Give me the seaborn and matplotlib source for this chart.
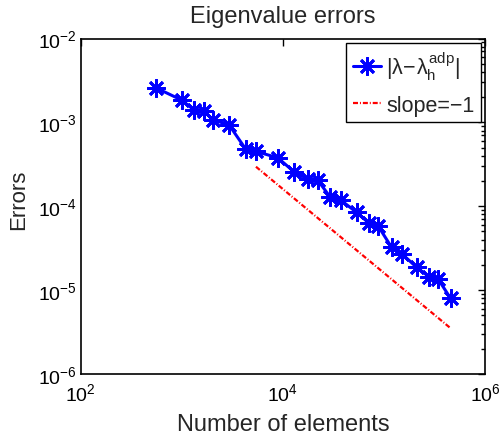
import numpy as np
import pandas as pd
import matplotlib
matplotlib.use("Agg")
import matplotlib.pyplot as plt
import matplotlib.ticker as mticker
import seaborn as sns

# ---- data ----
n_elements = [556, 1000, 1330, 1670, 2020, 2950, 4315, 5420, 8890, 12880,
              17830, 22090, 29240, 37560, 53700, 71600, 87900, 119200,
              151700, 210500, 280500, 344400, 457000]
eig_errors = [2.58e-3, 1.84e-3, 1.40e-3, 1.36e-3, 1.08e-3, 9.26e-4, 4.75e-4,
              4.50e-4, 3.79e-4, 2.58e-4, 2.09e-4, 2.05e-4, 1.30e-4, 1.18e-4,
              8.44e-5, 6.24e-5, 5.79e-5, 3.23e-5, 2.69e-5, 1.87e-5, 1.44e-5,
              1.35e-5, 7.96e-6]
slope_x = [5420, 457000]
slope_y = [2.96e-4, 3.51e-6]

err_label = r'$|\lambda\!-\!\lambda_{\mathrm{h}}^{\mathrm{adp}}|$'
slope_label = 'slope=\u22121'
title = 'Eigenvalue errors'
xlabel = 'Number of elements'
ylabel = 'Errors'
xticks = [1e2, 1e4, 1e6]
yticks = [1e-6, 1e-5, 1e-4, 1e-3, 1e-2]

sns.set_style("white")
plt.rcParams['font.family'] = ['Liberation Sans', 'DejaVu Sans']
plt.rcParams['mathtext.fontset'] = 'custom'
plt.rcParams['mathtext.rm'] = 'Liberation Sans'
plt.rcParams['mathtext.it'] = 'Liberation Sans'
plt.rcParams['mathtext.bf'] = 'Liberation Sans:bold'
plt.rcParams['mathtext.sf'] = 'Liberation Sans'
plt.rcParams['lines.scale_dashes'] = False

fig = plt.figure(figsize=(4.99, 4.39), dpi=100)
ax = fig.add_axes([80.7 / 499, 1 - 375 / 439, (485 - 80.7) / 499, (375 - 39.5) / 439])

df_err = pd.DataFrame({'N': n_elements, 'err': eig_errors})
df_slope = pd.DataFrame({'N': slope_x, 'err': slope_y})

sns.lineplot(data=df_err, x='N', y='err', ax=ax, color='#0000ff', lw=2.2,
             marker=(8, 2, 0), markersize=13, markeredgewidth=2.0,
             markeredgecolor='#0000ff', label=err_label, sort=False)
sns.lineplot(data=df_slope, x='N', y='err', ax=ax, color='#ff0000', lw=1.6,
             dashes=False, label=slope_label, sort=False)
ax.lines[-1].set_dashes((3.6, 1.4, 0.7, 1.4))

ax.set_xscale('log')
ax.set_yscale('log')
ax.set_xlim(1e2, 1e6)
ax.set_ylim(1e-6, 1e-2)

ax.xaxis.set_major_locator(mticker.FixedLocator(xticks))
ax.xaxis.set_minor_locator(mticker.NullLocator())
ax.yaxis.set_major_locator(mticker.FixedLocator(yticks))
ax.yaxis.set_minor_locator(mticker.LogLocator(base=10, subs=np.arange(2, 10)))
ax.yaxis.set_minor_formatter(mticker.NullFormatter())
ax.xaxis.set_major_formatter(mticker.LogFormatterSciNotation())
ax.yaxis.set_major_formatter(mticker.LogFormatterSciNotation())

ax.tick_params(which='both', direction='in', top=True, right=True,
               colors='black', width=1.0)
ax.tick_params(which='major', length=5, labelsize=14)
ax.tick_params(which='minor', length=3)
ax.tick_params(axis='x', which='major', pad=6)
ax.tick_params(axis='y', which='major', pad=3)

for s in ax.spines.values():
    s.set_visible(True)
    s.set_color('black')
    s.set_linewidth(1.2)

ax.set_title(title, fontsize=17, pad=12)
ax.set_xlabel(xlabel, fontsize=17, labelpad=6)
ax.set_ylabel(ylabel, fontsize=16)
ax.yaxis.set_label_coords(-0.128, 0.522)

leg = ax.legend(loc='upper right', fontsize=15.5, frameon=True, fancybox=False,
                framealpha=1, edgecolor='black', handlelength=1.3,
                handletextpad=0.25, borderpad=0.3, borderaxespad=0.2,
                labelspacing=0.6)
leg.get_frame().set_linewidth(1.0)

fig.savefig('out.png', dpi=100)
